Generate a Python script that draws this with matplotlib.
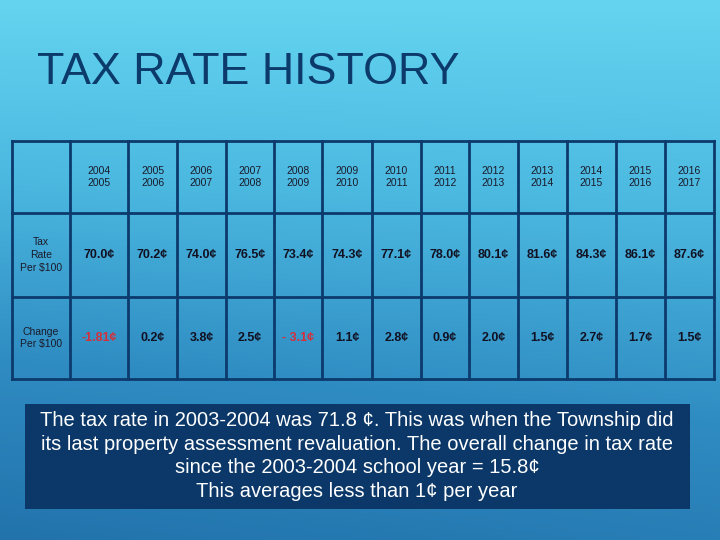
import numpy as np
import matplotlib.pyplot as plt
from matplotlib.colors import LinearSegmentedColormap

years = ["2004\n2005", "2005\n2006", "2006\n2007", "2007\n2008", "2008\n2009",
         "2009\n2010", "2010\n2011", "2011\n2012", "2012\n2013", "2013\n2014",
         "2014\n2015", "2015\n2016", "2016\n2017"]
rates = ["70.0¢", "70.2¢", "74.0¢", "76.5¢", "73.4¢", "74.3¢", "77.1¢",
         "78.0¢", "80.1¢", "81.6¢", "84.3¢", "86.1¢", "87.6¢"]
changes = ["-1.81¢", "0.2¢", "3.8¢", "2.5¢", "- 3.1¢", "1.1¢", "2.8¢",
           "0.9¢", "2.0¢", "1.5¢", "2.7¢", "1.7¢", "1.5¢"]
row_labels = ["Tax\nRate\nPer $100", "Change\nPer $100"]
title = "TAX RATE HISTORY"
note = ("The tax rate in 2003-2004 was 71.8 ¢. This was when the Township did\n"
        "its last property assessment revaluation. The overall change in tax rate\n"
        "since the 2003-2004 school year = 15.8¢\n"
        "This averages less than 1¢ per year")

plt.rcParams['font.family'] = ['Liberation Sans', 'DejaVu Sans']

fig = plt.figure(figsize=(7.2, 5.4), dpi=100)
ax = fig.add_axes([0, 0, 1, 1])
ax.set_xlim(0, 720)
ax.set_ylim(540, 0)
ax.axis('off')

# background gradient
cmap = LinearSegmentedColormap.from_list('bg', ['#64d4f0', '#4bb8e0', '#2f8cc2', '#2273ac'])
yy, xx = np.mgrid[0:1:200j, 0:1:200j]
grad = 0.85 * yy + 0.15 * (1 - xx) * yy
ax.imshow(grad, cmap=cmap, extent=[0, 720, 540, 0], aspect='auto', zorder=0)

ax.text(37, 73, title, fontsize=32.3, color='#0b3a6b', va='center', ha='left')

# table
col_edges = [12, 70, 128, 177, 226, 274, 322, 372, 421, 469, 518, 567, 616, 665, 714]
row_edges = [141, 213, 297, 379]
line_c = '#0c3a6c'
for x in col_edges:
    ax.plot([x, x], [row_edges[0], row_edges[-1]], color=line_c, lw=2, zorder=3)
for y in row_edges:
    ax.plot([col_edges[0], col_edges[-1]], [y, y], color=line_c, lw=2, zorder=3)

def mid(a, i):
    return (a[i] + a[i + 1]) / 2

for i, lab in enumerate(row_labels):
    ax.text(mid(col_edges, 0), mid(row_edges, i + 1), lab, fontsize=7.5, color='#1a1a2a',
            ha='center', va='center', linespacing=1.35)

for j in range(len(years)):
    cx = mid(col_edges, j + 1)
    ax.text(cx, mid(row_edges, 0), years[j], fontsize=7.5, color='#1a1a2a',
            ha='center', va='center', linespacing=1.35)
    ax.text(cx, mid(row_edges, 1), rates[j], fontsize=9, fontweight='bold',
            color='#111122', ha='center', va='center')
    neg = changes[j].startswith('-')
    ax.text(cx, mid(row_edges, 2), changes[j], fontsize=9, fontweight='bold',
            color='#d4303c' if neg else '#111122', ha='center', va='center')

# note box
ax.add_patch(plt.Rectangle((25, 404), 665, 105, facecolor='#0b3868', edgecolor='none', zorder=2))
ax.text(357, 456, note, fontsize=14.5, color='white', ha='center', va='center',
        linespacing=1.3, zorder=3)

fig.savefig('out.png', dpi=100)
